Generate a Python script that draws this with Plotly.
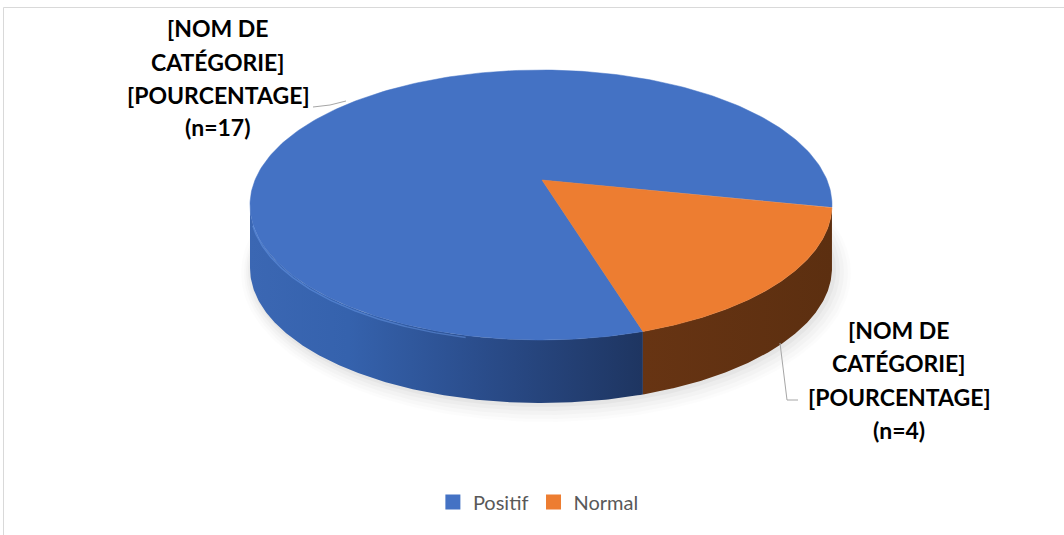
import numpy as np
import plotly.graph_objects as go

# ---- data ----
categories = ["Positif", "Normal"]
counts = [17, 4]
label_lines = ["[NOM DE", "CATÉGORIE]", "[POURCENTAGE]"]

# ---- style ----
top_colors = ["#4472C4", "#ED7D31"]
side_scales = [
    [[0, "#3B67B3"], [0.25, "#3562AD"], [0.6, "#2A4C8A"], [1, "#1E3561"]],
    [[0, "#673413"], [1, "#5C2F10"]],
]
W, H = 1064, 535
cx, cy, rx, ry = 541, 205, 291, 135
vx, vy = 542, 180
depth = 63
rotation = -69.5  # start angle of first slice (degrees, clockwise)

total = sum(counts)


def rim(a0, a1, n=200, dy=0, ex=0):
    t = np.radians(np.linspace(a0, a1, n))
    return (cx + (rx + ex) * np.cos(t)), (cy + dy - (ry + ex) * np.sin(t))


fig = go.Figure()

# soft shadow
for ex, op, off in [(14, 0.012, 5), (11, 0.015, 5), (8, 0.02, 4), (5, 0.025, 3), (2, 0.03, 2)]:
    x, y = rim(0, 360, 300, dy=depth + off, ex=ex)
    fig.add_trace(go.Scatter(x=x + off, y=y, fill="toself", mode="lines",
                             line=dict(width=0), fillcolor=f"rgba(0,0,0,{op})",
                             hoverinfo="skip", showlegend=False))

# slice angles
angles = []
a = rotation
for c in counts:
    span = 360 * c / total
    angles.append((a, a - span))
    a -= span

# side walls (front half only)
for i, (a0, a1) in enumerate(angles):
    for k in range(-3, 2):
        lo = max(a1, -180 + 360 * k)
        hi = min(a0, 360 * k)
        if hi - lo > 0.01:
            xt, yt = rim(hi, lo)
            xb, yb = rim(lo, hi, dy=depth)
            xs = np.concatenate([xt, xb, xt[:1]])
            ys = np.concatenate([yt, yb, yt[:1]])
            fig.add_trace(go.Scatter(
                x=xs, y=ys, fill="toself", mode="lines", line=dict(width=0),
                fillgradient=dict(type="horizontal", colorscale=side_scales[i]),
                hoverinfo="skip", showlegend=False))

# top faces
for i, (a0, a1) in enumerate(angles):
    xr, yr = rim(a0, a1, 300)
    xs = np.concatenate([[vx], xr, [vx]])
    ys = np.concatenate([[vy], yr, [vy]])
    fig.add_trace(go.Scatter(x=xs, y=ys, fill="toself", mode="lines",
                             line=dict(width=0.5, color=top_colors[i]),
                             fillcolor=top_colors[i], hoverinfo="skip",
                             showlegend=False, name=categories[i]))

# bevel highlight on front edge of blue slice
xh, yh = rim(-105, -172, 120, dy=2)
fig.add_trace(go.Scatter(x=xh, y=yh, mode="lines",
                         line=dict(width=1.5, color="rgba(110,160,240,0.45)"),
                         hoverinfo="skip", showlegend=False))

# legend entries
for i, cat in enumerate(categories):
    fig.add_trace(go.Scatter(x=[None], y=[None], mode="markers", name=cat,
                             marker=dict(symbol="square", size=15, color=top_colors[i])))

# leader lines
fig.add_trace(go.Scatter(x=[313, 330, 346], y=[107, 105, 101], mode="lines",
                         line=dict(color="#A6A6A6", width=1), hoverinfo="skip", showlegend=False))
fig.add_trace(go.Scatter(x=[780, 787, 798], y=[343, 400, 400], mode="lines",
                         line=dict(color="#A6A6A6", width=1), hoverinfo="skip", showlegend=False))

# data labels
label_pos = [(218, [28, 62, 95, 127]), (899, [330, 363, 397, 430])]
for i, c in enumerate(counts):
    lines = label_lines + [f"(n={c})"]
    lx, lys = label_pos[i]
    for txt, ly in zip(lines, lys):
        fig.add_annotation(x=lx, y=ly, xref="x", yref="y", text=txt, showarrow=False,
                           font=dict(family="Lato", size=23, color="#000000", weight="bold"),
                           xanchor="center", yanchor="middle")

# chart border
fig.add_shape(type="rect", xref="paper", yref="paper",
              x0=3.5 / W, y0=1 - 7.5 / H, x1=1.01, y1=-0.01,
              line=dict(color="#D9D9D9", width=1), fillcolor="rgba(0,0,0,0)")

fig.update_layout(
    width=W, height=H, autosize=False,
    margin=dict(l=0, r=0, t=0, b=0),
    paper_bgcolor="white", plot_bgcolor="white",
    xaxis=dict(range=[0, W], visible=False, fixedrange=True),
    yaxis=dict(range=[H, 0], visible=False, fixedrange=True),
    showlegend=True,
    legend=dict(orientation="h", x=0.506, xanchor="center", y=(H - 502) / H, yanchor="middle",
                font=dict(family="Lato", size=20, color="#595959"),
                itemwidth=30, bgcolor="rgba(0,0,0,0)"),
)

fig.write_html("out.html")
